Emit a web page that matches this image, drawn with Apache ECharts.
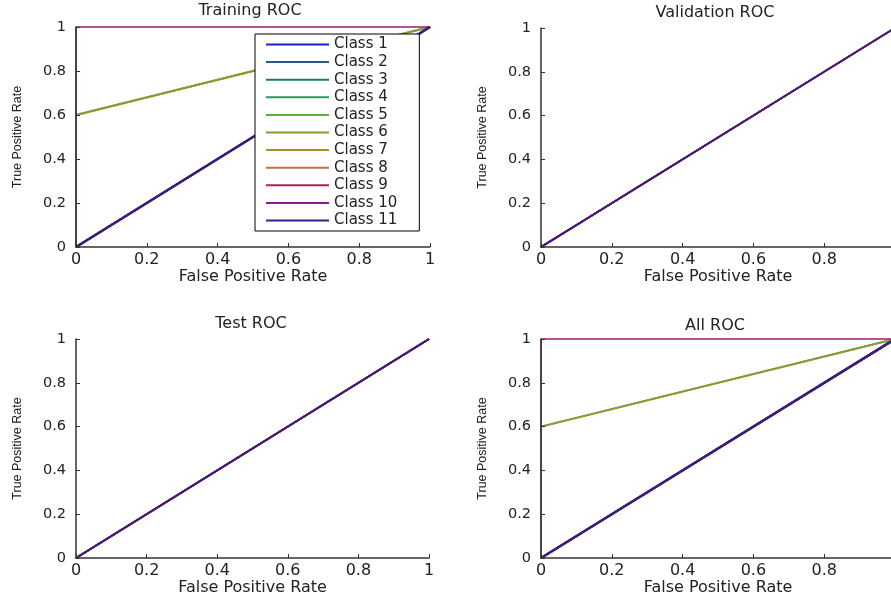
<!DOCTYPE html>
<html><head><meta charset="utf-8">
<script src="https://cdn.jsdelivr.net/npm/echarts@6/dist/echarts.min.js"></script>
<style>html,body{margin:0;padding:0;background:#fff}#c{width:891px;height:596px}</style>
</head><body><div id="c"></div>
<script>
// ---------------- data ----------------
const classNames = ['Class 1','Class 2','Class 3','Class 4','Class 5','Class 6','Class 7','Class 8','Class 9','Class 10','Class 11'];
const panelTitles = ['Training ROC','Validation ROC','Test ROC','All ROC'];
const tickLabels = ['0','0.2','0.4','0.6','0.8','1'];
const xAxisTitle = 'False Positive Rate';
const yAxisTitle = 'True Positive Rate';

// ROC curve points per class (false positive rate / true positive rate)
const trainingFPR = [[0,1],[0,1],[0,1],[0,1],[0,1],[0,1],[0,1],[0,1],[0,0,1],[0,0,1],[0,1]];
const trainingTPR = [[0,1],[0,1],[0,1],[0,1],[0.6,1],[0.6,1],[0,1],[0,1],[0,1,1],[0,1,1],[0,1]];
const validationFPR = [[0,1],[0,1],[0,1],[0,1],[0,1],[0,1],[0,1],[0,1],[0,1],[0,1],[0,1]];
const validationTPR = [[0,1],[0,1],[0,1],[0,1],[0,1],[0,1],[0,1],[0,1],[0,1],[0,1],[0,1]];
const testFPR = [[0,1],[0,1],[0,1],[0,1],[0,1],[0,1],[0,1],[0,1],[0,1],[0,1],[0,1]];
const testTPR = [[0,1],[0,1],[0,1],[0,1],[0,1],[0,1],[0,1],[0,1],[0,1],[0,1],[0,1]];
const allFPR = [[0,1],[0,1],[0,1],[0,1],[0,1],[0,1],[0,1],[0,1],[0,0,1],[0,0,1],[0,1]];
const allTPR = [[0,1],[0,1],[0,1],[0,1],[0.6,1],[0.6,1],[0,1],[0,1],[0,1,1],[0,1,1],[0,1]];

// ---------------- styling / layout ----------------
const classColors = ['#1c1cc8','#2a5a82','#1d7a6a','#2a9a5c','#5cb040','#8c9a36','#a88e2c','#c0704a','#b0204e','#8a1a8e','#3c1a82'];
const wideWidths = [2,2,2,2,2,2,2,2,1,1,2.6];
const thinWidths = [1.5,1.5,1.5,1.5,1.5,1.5,1.5,1.5,1.5,1.5,1.5];
const panels = [
  {fpr: trainingFPR, tpr: trainingTPR, grid:{left:76, top:27, width:354, height:220}, title:{x:250, y:4}, lw: wideWidths},
  {fpr: validationFPR, tpr: validationTPR, grid:{left:541, top:28, width:354, height:219}, title:{x:715, y:6}, lw: thinWidths},
  {fpr: testFPR, tpr: testTPR, grid:{left:76, top:339, width:353, height:219}, title:{x:251, y:317}, lw: thinWidths},
  {fpr: allFPR, tpr: allTPR, grid:{left:541, top:339, width:354, height:219}, title:{x:715, y:319}, lw: wideWidths}
];
const txt = '#222';
const axisCol = '#333';

const option = {
  animation: false,
  backgroundColor: '#fff',
  title: panels.map((p, i) => ({
    text: panelTitles[i], left: p.title.x, top: p.title.y - 1, textAlign: 'center', padding: 0,
    textStyle: {fontFamily: 'DejaVu Sans', fontSize: 16, fontWeight: 'normal', color: txt}
  })),
  grid: panels.map(p => Object.assign({containLabel: false, outerBoundsMode: 'none'}, p.grid)),
  xAxis: panels.map((p, i) => ({
    type: 'value', gridIndex: i, min: 0, max: 1, interval: 0.2, z: 5,
    name: xAxisTitle, nameLocation: 'middle', nameGap: 18,
    nameTextStyle: {fontFamily: 'DejaVu Sans', fontSize: 16, color: txt},
    axisLine: {show: true, onZero: false, lineStyle: {color: axisCol, width: 1.5}},
    axisTick: {show: true, inside: true, length: 4, lineStyle: {color: axisCol, width: 1}},
    axisLabel: {margin: 5, fontFamily: 'DejaVu Sans', fontSize: 16, color: txt, showMinLabel: true, showMaxLabel: true,
      formatter: v => tickLabels[Math.round(v / 0.2)]},
    splitLine: {show: false}
  })),
  yAxis: panels.map((p, i) => ({
    type: 'value', gridIndex: i, min: 0, max: 1, interval: 0.2, z: 5,
    name: yAxisTitle, nameLocation: 'middle', nameGap: 52,
    nameTextStyle: {fontFamily: 'Liberation Sans', fontSize: 12.5, color: txt},
    axisLine: {show: true, onZero: false, lineStyle: {color: axisCol, width: 1.5}},
    axisTick: {show: true, inside: true, length: 4, lineStyle: {color: axisCol, width: 1}},
    axisLabel: {margin: 10, fontFamily: 'DejaVu Sans', fontSize: 14.5, color: txt, showMinLabel: true, showMaxLabel: true,
      formatter: v => tickLabels[Math.round(v / 0.2)]},
    splitLine: {show: false}
  })),
  legend: {
    data: classNames, orient: 'vertical', left: 255, top: 34, z: 10,
    icon: 'rect', itemWidth: 63, itemHeight: 2, itemGap: 2.6, padding: [3, 22, 3, 11],
    borderColor: '#000', borderWidth: 1, backgroundColor: '#fff', borderRadius: 0,
    textStyle: {fontFamily: 'DejaVu Sans', fontSize: 15, color: txt},
    selectedMode: false
  },
  series: []
};

panels.forEach((p, pi) => {
  classNames.forEach((name, ci) => {
    option.series.push({
      type: 'line', name: name, xAxisIndex: pi, yAxisIndex: pi,
      data: p.fpr[ci].map((x, k) => [x, p.tpr[ci][k]]),
      symbol: 'none', showSymbol: false, clip: false, silent: true,
      color: classColors[ci],
      lineStyle: {color: classColors[ci], width: p.lw[ci]},
      itemStyle: {color: classColors[ci]}
    });
  });
});

const chart = echarts.init(document.getElementById('c'), null, {renderer: 'canvas'});
chart.setOption(option);
</script>
</body></html>
